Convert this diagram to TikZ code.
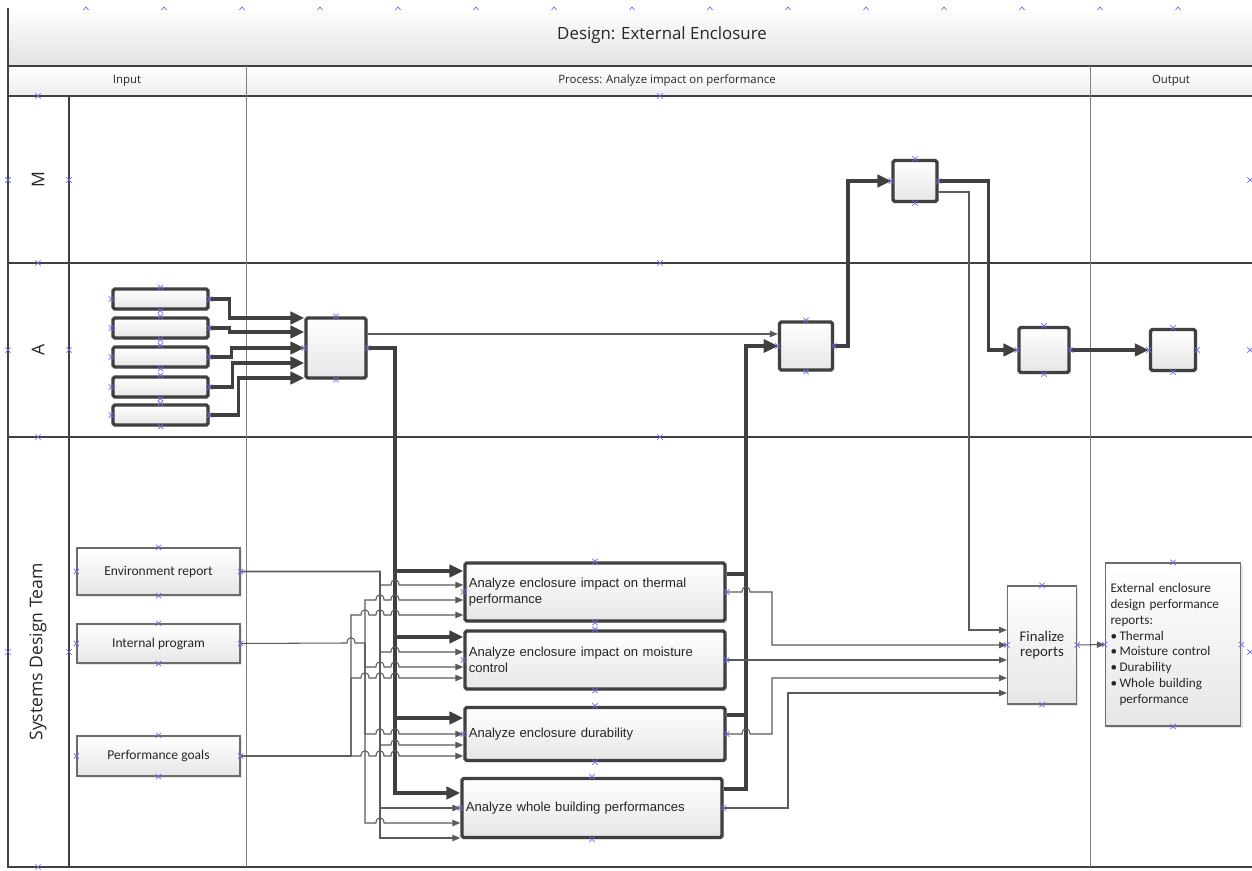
\documentclass[tikz,border=0pt]{standalone}
\usepackage{fontspec}
\setmainfont{Carlito}
\newfontfamily\uifont{Open Sans}
\newfontfamily\arialfont{Liberation Sans}
\usetikzlibrary{arrows.meta,shadows,shapes.misc}
\hyphenpenalty=10000
\exhyphenpenalty=10000
\definecolor{linegray}{HTML}{404040}
\definecolor{thingray}{HTML}{5A5A5A}
\definecolor{bandgray}{HTML}{E2E2E2}
\definecolor{boxgray}{HTML}{E6E6E6}
\definecolor{markblue}{HTML}{6A6AF0}
\tikzset{
  lane/.style={draw=linegray,line width=0.8pt},
  colline/.style={draw=gray,line width=0.5pt},
  band/.style={top color=white,bottom color=bandgray},
  hdr/.style={font=\uifont\fontsize{6.5}{8}\selectfont,text=black!85},
  lanelab/.style={rotate=90,font=\uifont\fontsize{10}{12}\selectfont,text=black!85},
  stepbox/.style={draw=linegray,line width=1.9pt,rounded corners=1pt,
    top color=white,bottom color=boxgray,inner sep=0pt,
    drop shadow={shadow xshift=1pt,shadow yshift=-1pt,opacity=0.2}},
  databox/.style={draw=gray!85!black,line width=0.6pt,
    top color=white,bottom color=boxgray,inner sep=2pt,text=black!85,
    drop shadow={shadow xshift=1pt,shadow yshift=-1pt,opacity=0.2}},
  flow/.style={draw=linegray,line width=2pt,-{Triangle[length=8pt,width=7pt]}},
  feed/.style={draw=thingray,line width=0.6pt,-{Triangle[length=4.5pt,width=3.6pt]}},
  cpt/.style={cross out,draw=markblue,line width=0.4pt,minimum size=2.6pt,inner sep=0pt},
  sz/.style 2 args={minimum width=#1*0.02cm,minimum height=#2*0.02cm},
}
% thin input line from a source, down a bus, hopping over the lines on its way
\newcommand\feedline[5]{%
  \draw[feed] (#1) -| (#2,#3)
    \foreach \h in {#4}{ -- (\h-4,#3) .. controls (\h-4,#3-7) and (\h+4,#3-7) .. (\h+4,#3)}
    -- (#5.west |- 0,#3);}
\begin{document}
\begin{tikzpicture}[x=0.02cm,y=-0.02cm]
\useasboundingbox (0,0) rectangle (1252,871);
\fill[white] (0,0) rectangle (1252,871);
% pool header
\shade[band] (8,8) rectangle (1252,66);
\shade[band,bottom color=bandgray!60] (8,66) rectangle (1252,96);
\node[font=\uifont\fontsize{9.6}{11}\selectfont,text=black!85] (title) at (662,35) {Design: External Enclosure};
\node[hdr] (hin) at (127,81) {Input};
\node[hdr] (hproc) at (667,81) {Process: Analyze impact on performance};
\node[hdr] (hout) at (1171,81) {Output};
% lanes
\draw[lane] (8,8) -- (8,867) -- (1252,867);
\foreach \y in {66,96,263,437} \draw[lane] (8,\y) -- (1252,\y);
\draw[lane] (69,96) -- (69,867);
\draw[colline] (246,66) -- (246,867);
\draw[colline] (1090,66) -- (1090,867);
\node[lanelab] (lm) at (38,180) {M};
\node[lanelab] (la) at (38,350) {A};
\node[lanelab] (lsdt) at (38,652) {Systems Design Team};

% lane A and M
\foreach \i/\y in {1/299,2/328,3/357,4/387,5/415}
  \node[stepbox,sz={95}{20}] (in\i) at (160.5,\y) {};
\node[stepbox,sz={60}{60}] (P) at (336,348) {};
\node[stepbox,sz={53}{48}] (Q) at (806,346) {};
\node[stepbox,sz={44}{41}] (R) at (915,181) {};
\node[stepbox,sz={50}{45}] (S) at (1044,350) {};
\node[stepbox,sz={45}{41}] (T) at (1173,350) {};

% systems design team
\begin{scope}[font=\fontsize{7.7}{9}\selectfont]
\node[databox,sz={163}{47}] (Env) at (158.5,571.5) {Environment report};
\node[databox,sz={163}{39}] (Int) at (158.5,643.5) {Internal program};
\node[databox,sz={163}{40}] (Perf) at (158.5,756) {Performance goals};
\end{scope}
\node[databox,sz={69}{118},align=center,font=\fontsize{8.4}{9}\selectfont] (Fin) at (1042,645) {Finalize\\reports};
\begin{scope}[font=\arialfont\fontsize{7.45}{9}\selectfont]
\node[stepbox,sz={260}{58},text width=5.05cm,align=left,inner sep=2pt,text=black!85] (B1) at (595,592) {Analyze enclosure impact on thermal performance};
\node[stepbox,sz={260}{58},text width=5.05cm,align=left,inner sep=2pt,text=black!85] (B2) at (595,660) {Analyze enclosure impact on moisture control};
\node[stepbox,sz={260}{53},text width=5.05cm,align=left,inner sep=2pt,text=black!85] (B3) at (595,734) {Analyze enclosure durability};
\node[stepbox,sz={260}{59},text width=5.05cm,align=left,inner sep=2pt,text=black!85] (B4) at (592,808) {Analyze whole building performances};
\end{scope}
\node[databox,sz={134}{163},text width=2.5cm,align=left,inner sep=3pt,
  font=\fontsize{7.5}{9}\selectfont] (Out) at (1173,644.5)
  {External enclosure\\design performance\\reports:\\
   \makebox[0.18cm][l]{\textbullet}Thermal\\
   \makebox[0.18cm][l]{\textbullet}Moisture control\\
   \makebox[0.18cm][l]{\textbullet}Durability\\
   \makebox[0.18cm][l]{\textbullet}Whole building\\
   \hspace*{0.18cm}performance};

% main flow
\foreach \i/\dx/\y in {1/20/318,2/20/332,3/22/348,4/23/363,5/29/378}
  \draw[flow] (in\i.east) -- ++(\dx,0) |- (P.west |- 0,\y);
\foreach \b/\y in {B1/571,B2/637,B3/718,B4/793}
  \draw[flow] (P.east) -| (395,\y) -- (\b.west |- 0,\y);
\foreach \b/\y in {B1/574,B3/715,B4/789}
  \draw[flow] (\b.east |- 0,\y) -- (746,\y) |- (Q.west);
\draw[flow] (Q.east) -- ++(14,0) |- (R.west);
\draw[flow] (R.east) -- ++(50,0) |- (S.west);
\draw[flow] (S.east) -- (T.west);

% inputs to the analysis steps
\feedline{Env.east}{380}{585}{395}{B1}
\feedline{Env.east}{380}{652}{395}{B2}
\feedline{Env.east}{380}{745}{395}{B3}
\draw[feed] (Env.east) -| (380,808) -- (B4.west |- 0,808);
\draw[feed] (Env.east) -| (380,838) -- (B4.west |- 0,838);
\coordinate (intj) at (365,643);
\draw[draw=thingray,line width=0.6pt] (Int.east) -- (347,643) .. controls (347,636) and (355,636) .. (355,643) -- (intj);
\feedline{intj}{365}{600}{380,395}{B1}
\feedline{intj}{365}{667}{380,395}{B2}
\feedline{intj}{365}{734}{380,395}{B3}
\feedline{intj}{365}{823}{380}{B4}
\feedline{Perf.east}{351}{615}{365,380,395}{B1}
\feedline{Perf.east}{351}{678}{365,380,395}{B2}
\feedline{Perf.east}{351}{756}{365,380,395}{B3}

% thin links
\draw[feed] (P.east |- 0,334) -- (Q.west |- 0,334);
\draw[feed] (R.east |- 0,192) -| (969,630) -- (Fin.west |- 0,630);
\draw[feed] (B1.east) -- (742,592) .. controls (742,585) and (750,585) .. (750,592) -| (772,645) -- (Fin.west |- 0,645);
\draw[feed] (B2.east) -- (Fin.west |- 0,660);
\draw[feed] (B3.east) -- (742,734) .. controls (742,727) and (750,727) .. (750,734) -| (772,678) -- (Fin.west |- 0,678);
\draw[feed] (B4.east) -| (788,693) -- (Fin.west |- 0,693);
\draw[feed] (Fin.east) -- (Out.west);

% connection points
\foreach \n in {in1,in2,in3,in4,in5,P,Q,R,S,T,Env,Int,Perf,B1,B2,B3,B4,Fin,Out}
  \foreach \a in {north,south,east,west}
    \node[cpt] at (\n.\a) {};
\foreach \x/\y in {38/96,38/263,38/437,38/867,660/96,660/263,660/437,8/180,69/180,8/350,69/350,8/652,69/652,1250/180,1250/350,1250/652}
  \node[cpt] at (\x,\y) {};
\foreach \x in {86,164,...,1178}
  \draw[markblue,line width=0.4pt] (\x-2.5,10) -- (\x,7) -- (\x+2.5,10);
\end{tikzpicture}
\end{document}
